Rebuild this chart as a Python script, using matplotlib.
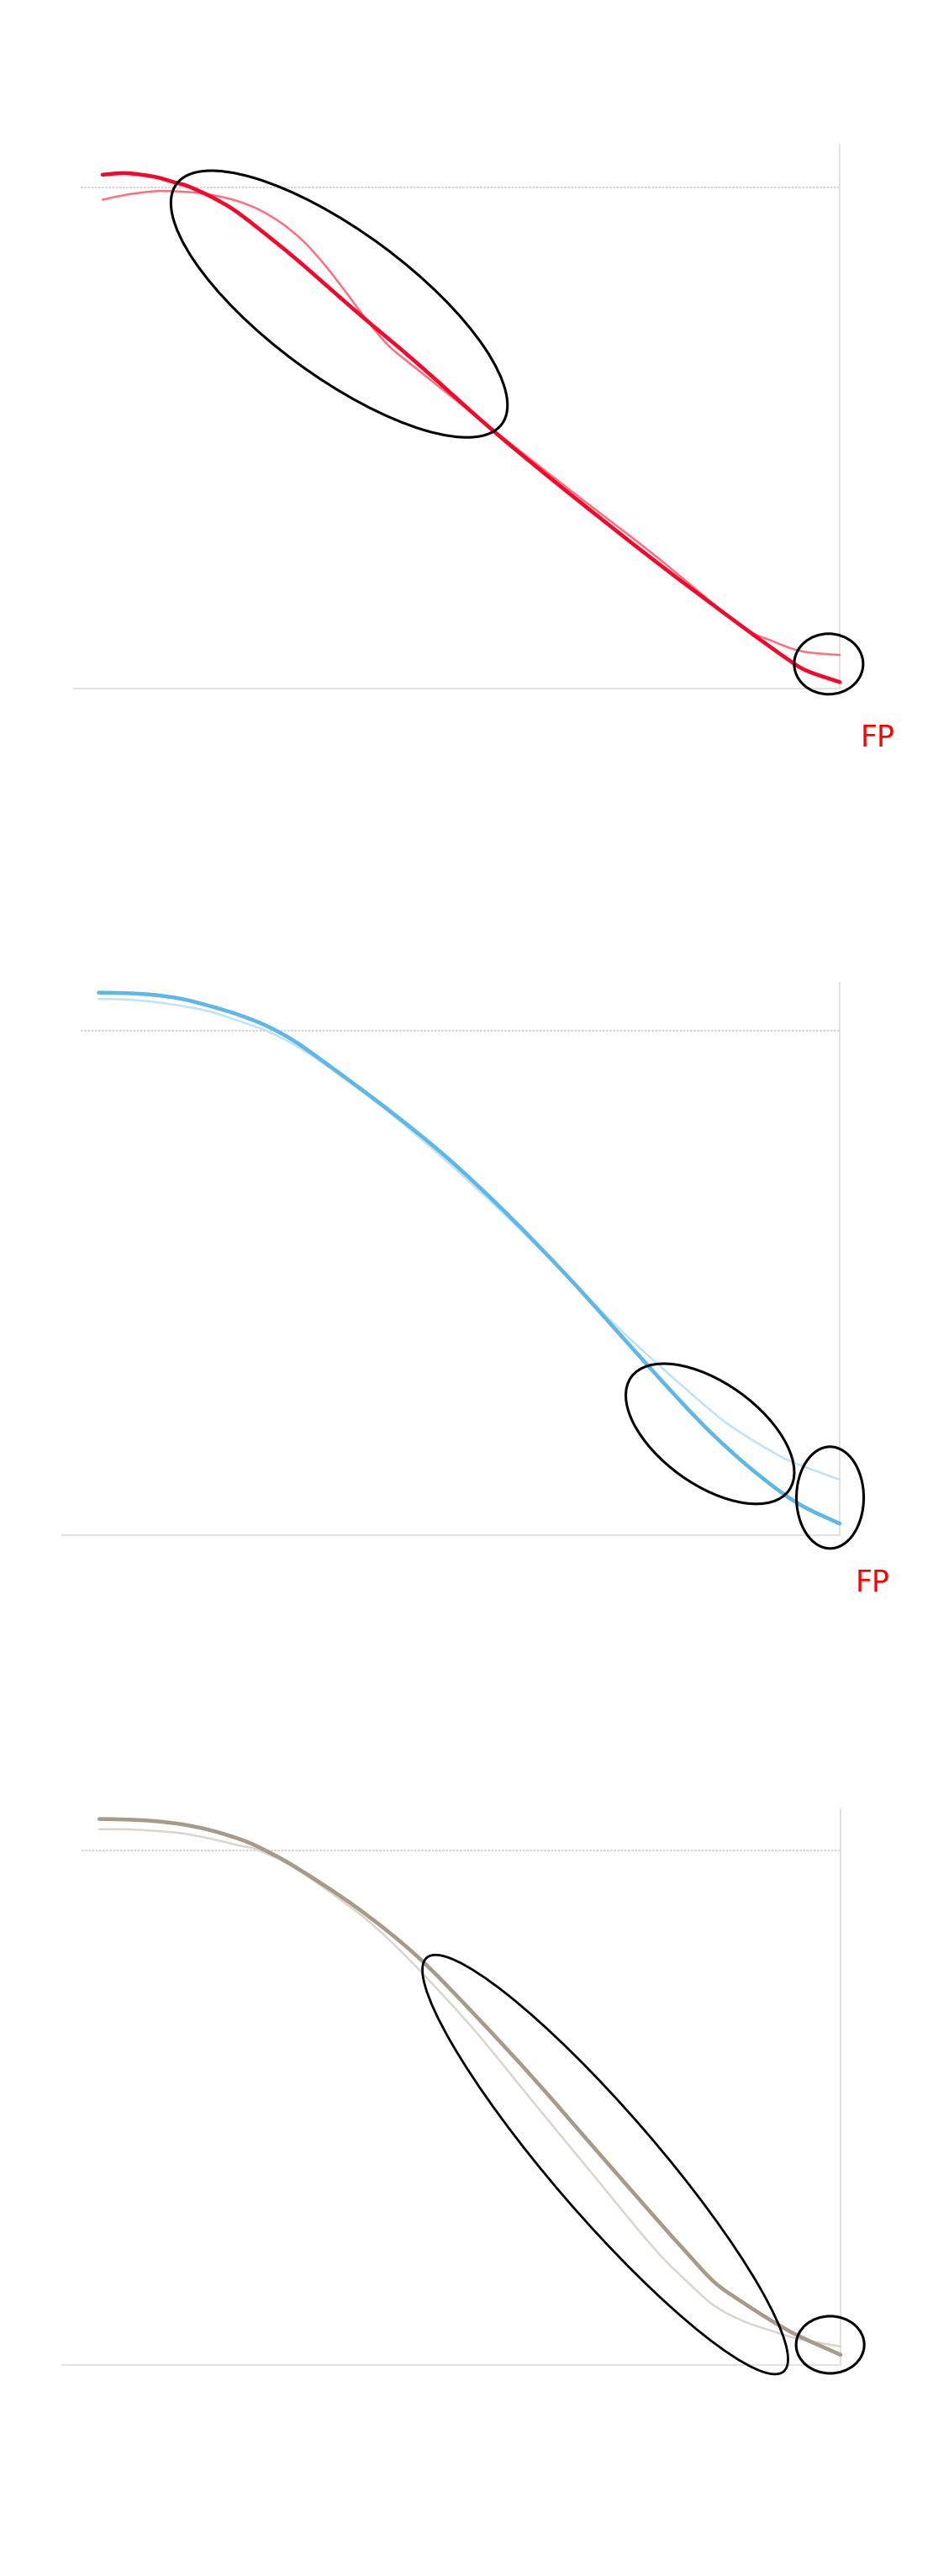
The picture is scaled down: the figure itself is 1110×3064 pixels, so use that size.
import matplotlib
matplotlib.use("Agg")
import matplotlib.pyplot as plt
from matplotlib.patches import Ellipse, PathPatch
from matplotlib.path import Path
from matplotlib.transforms import ScaledTranslation

# panel 1 - red
red_thick_x = [0, 3.2, 7.0, 9.7, 11.6, 14.6, 17.6, 20.7, 26.4, 34.5, 42.6, 53.1, 62.75, 74.9, 86.2, 93.4, 95.8, 100]
red_thick_y = [102.5, 102.8, 102.1, 101.0, 100.2, 98.2, 95.7, 92.3, 85.5, 75.1, 65.0, 51.3, 39.6, 25.5, 13.0, 5.4, 3.4, 1.3]
red_thin_x = [0, 3.2, 7.0, 9.7, 12.7, 15.4, 18.4, 21.4, 24.5, 27.4, 30.2, 33.1, 35.9, 38.8, 42.0, 45.4,
              49.4, 53.0, 62.7, 74.8, 86.2, 91.0, 95.0, 100]
red_thin_y = [97.5, 98.5, 99.2, 99.2, 98.9, 98.3, 97.2, 95.4, 92.6, 89.0, 84.4, 78.9, 73.4, 68.4, 64.5, 60.5,
              55.8, 51.6, 40.4, 26.7, 13.0, 9.4, 7.4, 6.7]

# panel 2 - blue
blue_thick_x = [0, 3.7, 7.45, 11.25, 15.0, 18.8, 22.6, 26.4, 30.8, 38.85, 46.9, 54.9, 62.95, 69.4, 73.4, 79.0,
                83.1, 87.6, 92.2, 95.6, 100]
blue_thick_y = [107.55, 107.45, 107.1, 106.3, 104.9, 103.2, 101.0, 97.95, 93.4, 84.6, 75.0, 64.0, 51.8, 41.35, 34.8,
                25.8, 19.65, 13.7, 8.4, 5.3, 2.3]
blue_thin_x = [0, 3.7, 7.45, 11.25, 15.0, 18.8, 22.6, 26.4, 30.8, 38.85, 46.9, 54.9, 62.95, 69.4, 75.0, 83.1,
               86.9, 90.7, 93.7, 100]
blue_thin_y = [106.3, 106.2, 105.7, 104.9, 103.8, 102.0, 100.0, 97.2, 93.0, 84.2, 74.2, 63.4, 51.8, 42.15, 34.5, 24.1,
               20.1, 16.7, 14.45, 11.0]

# panel 3 - brown
brown_thick_x = [0, 3.6, 7.4, 11.2, 14.9, 18.7, 21.4, 26.3, 34.7, 42.8, 50.8, 58.8, 66.85, 74.9, 78.9, 83.0,
                 86.8, 90.6, 94.3, 100]
brown_thick_y = [106.1, 106.0, 105.7, 105.05, 103.95, 102.3, 100.7, 96.9, 88.9, 79.5, 67.8, 55.3, 42.0, 28.75, 22.3,
                 16.0, 12.1, 8.6, 5.6, 1.9]
brown_thin_x = [0, 3.6, 7.4, 11.2, 14.9, 18.7, 21.4, 26.3, 34.7, 39.6, 44.4, 50.8, 58.8, 66.85, 74.9, 79.7,
                83.0, 86.8, 90.6, 94.3, 100]
brown_thin_y = [104.1, 104.1, 103.8, 103.3, 102.3, 101.0, 100.05, 96.6, 88.1, 81.9, 74.85, 64.7, 50.6, 36.5, 22.5,
                15.6, 11.4, 8.5, 6.6, 5.0, 3.5]

reference_level = 100
fp_label = "FP"

W, H, DPI = 1110, 3064, 100
GRID = "#E2E2E2"
fig = plt.figure(figsize=(W / DPI, H / DPI), dpi=DPI)


def make_panel(box, xlim, ylim, dotted_start):
    left, right, top, bottom = box
    ax = fig.add_axes([left / W, 1 - bottom / H, (right - left) / W, (bottom - top) / H])
    for side in ("left", "top"):
        ax.spines[side].set_visible(False)
    for side in ("right", "bottom"):
        ax.spines[side].set_color(GRID)
        ax.spines[side].set_linewidth(1.5)
    ax.set_xticks([])
    ax.set_yticks([])
    ax.hlines(reference_level, dotted_start, xlim[1], colors="#D6D6D6", lw=1.5,
              linestyles=(0, (1.3, 0.7)), zorder=1)
    ax.set_xlim(xlim)
    ax.set_ylim(ylim)
    ax.set_autoscale_on(False)
    return ax


def ring(ax, cx, cy, w, h, angle=0, lw=2.2):
    # size in inches, centre in data units
    tr = fig.dpi_scale_trans + ScaledTranslation(cx, cy, ax.transData)
    e = Ellipse((0, 0), w, h, angle=angle, transform=tr, fill=False,
                ec="black", lw=lw, clip_on=False, zorder=5)
    ax.add_patch(e)


def smooth_line(ax, xs, ys, color, lw, z):
    # bezier path passing through every read point (catmull-rom handles)
    pts = list(zip(xs, ys))
    n = len(pts)
    verts = [pts[0]]
    codes = [Path.MOVETO]
    for i in range(n - 1):
        p0 = pts[max(i - 1, 0)]
        p1 = pts[i]
        p2 = pts[i + 1]
        p3 = pts[min(i + 2, n - 1)]
        c1 = (p1[0] + (p2[0] - p0[0]) / 6, p1[1] + (p2[1] - p0[1]) / 6)
        c2 = (p2[0] - (p3[0] - p1[0]) / 6, p2[1] - (p3[1] - p1[1]) / 6)
        verts += [c1, c2, p2]
        codes += [Path.CURVE4] * 3
    patch = PathPatch(Path(verts, codes), fill=False, ec=color, lw=lw,
                      capstyle="round", joinstyle="round", clip_on=False, zorder=z)
    ax.add_patch(patch)


def curves(ax, xs1, ys1, xs2, ys2, c_thick, c_thin):
    smooth_line(ax, xs2, ys2, c_thin, 1.8, 3)
    smooth_line(ax, xs1, ys1, c_thick, 3.3, 4)


# panel 1
ax1 = make_panel((88, 999, 172, 819), (-3.88, 100), (0, 108.5), -3.0)
curves(ax1, red_thick_x, red_thick_y, red_thin_x, red_thin_y, "#F5072B", "#FF6E80")
ring(ax1, 32.1, 76.7, 4.81, 1.72, -36.4)
ring(ax1, 98.5, 4.9, 0.82, 0.72)
ax1.text(105.1, -11.6, fp_label, color="#FF0000", fontsize=25, ha="center", va="baseline")

# panel 2
ax2 = make_panel((74, 999, 1169, 1826), (-4.93, 100), (0, 109.5), -2.4)
curves(ax2, blue_thick_x, blue_thick_y, blue_thin_x, blue_thin_y, "#5DB8E8", "#BEE3F6")
ring(ax2, 82.5, 20.1, 2.31, 1.21, -35.7)
ring(ax2, 98.7, 7.45, 0.80, 1.21)
ax2.text(104.4, -11.2, fp_label, color="#FF0000", fontsize=25, ha="center", va="baseline")

# panel 3
ax3 = make_panel((74, 1000, 2152, 2812.5), (-5.02, 100), (0, 108.0), -2.45)
curves(ax3, brown_thick_x, brown_thick_y, brown_thin_x, brown_thin_y, "#A89A8A", "#DCD5CD")
ring(ax3, 68.25, 38.9, 6.50, 1.24, -49.2, lw=2.0)
ring(ax3, 98.6, 3.85, 0.81, 0.68)

fig.savefig("out.png", dpi=DPI, facecolor="white")
